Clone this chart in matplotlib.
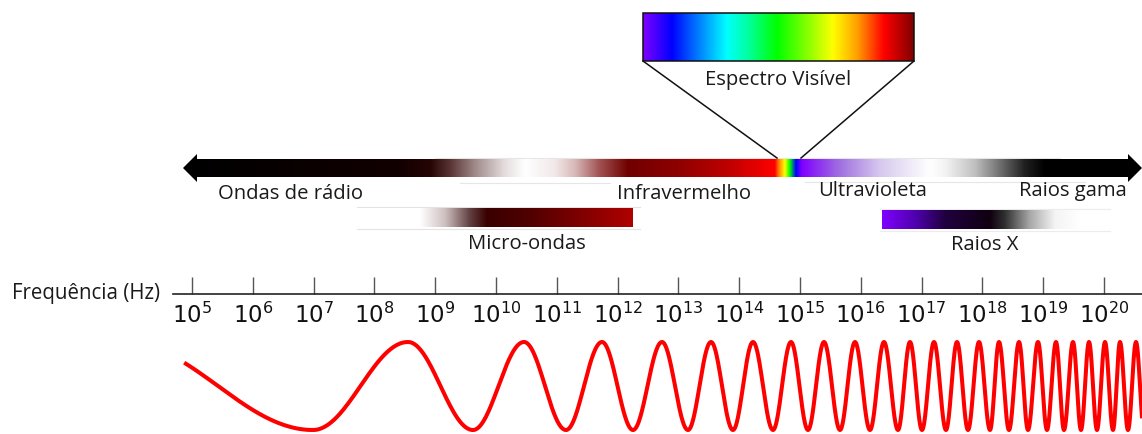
import numpy as np
import matplotlib
matplotlib.use("Agg")
import matplotlib.pyplot as plt
from matplotlib.colors import to_rgb
from matplotlib.patches import Polygon, Rectangle
from matplotlib.ticker import FixedLocator, LogFormatterSciNotation, NullLocator

W, H, DPI = 1142, 434, 100

# ---------------- data ----------------
band_labels = ["Ondas de rádio", "Infravermelho", "Ultravioleta", "Raios gama"]
sub_band_labels = ["Micro-ondas", "Raios X"]
visible_label = "Espectro Visível"
axis_label = "Frequência (Hz)"
freq_exponents = list(range(5, 21))

# colour stops of the main spectrum bar (pixel x, colour)
main_stop_x = [183, 400, 430, 450, 475, 505, 525, 555, 575, 600, 628, 680, 730, 775,
               779, 785, 790, 796, 802, 840, 880, 930, 945, 975, 1000, 1025, 1045, 1142]
main_stop_c = ["#000000", "#120000", "#260404", "#5a3434", "#a08a8a", "#e6dede", "#ffffff",
               "#f2e8e8", "#d8b8b8", "#a05050", "#700000", "#900000", "#c00000", "#ff0000",
               "#ff8000", "#ffff00", "#00ff00", "#0000ff", "#8000ff", "#a070e0", "#d6c8ee",
               "#ffffff", "#f4f4f4", "#c0c0c0", "#707070", "#202020", "#000000", "#000000"]

# micro-wave sub band
micro_stop_x = [357, 420, 445, 470, 487, 530, 633]
micro_stop_c = ["#ffffff", "#ffffff", "#d0c0c0", "#604040", "#3a0000", "#500000", "#b00000"]

# x-ray sub band
xray_stop_x = [882, 915, 945, 990, 1005, 1030, 1055, 1080]
xray_stop_c = ["#8000ff", "#5000b0", "#200040", "#100010", "#303030", "#a8a8a8", "#f4f4f4", "#ffffff"]

# visible spectrum box
vis_stop_x = [643, 672, 692, 727, 748, 777, 813, 833, 857, 884, 914]
vis_stop_c = ["#8000ff", "#0000ff", "#0060ff", "#00ffff", "#00ffa0", "#00ff00", "#a0ff00",
              "#ffff00", "#ffa000", "#ff0000", "#800000"]

# wave extrema (pixel x); first is an off-screen crest, then alternating trough / crest
wave_extrema_x = [123, 313, 408, 473, 524, 566, 602, 633, 662, 688, 711, 733, 753, 773, 791,
                  808, 824, 840, 855, 870, 884, 898, 910, 922, 934, 946, 957, 968, 979, 990,
                  999, 1009, 1019, 1028, 1038, 1047, 1056, 1064, 1073, 1081, 1089, 1097, 1105,
                  1113, 1120, 1128, 1136, 1144]

# ---------------- helpers ----------------
def gradient(stop_x, stop_c, x0, x1, n=1200):
    xs = np.linspace(x0, x1, n)
    rgb = np.array([to_rgb(c) for c in stop_c])
    img = np.stack([np.interp(xs, stop_x, rgb[:, k]) for k in range(3)], axis=-1)
    return img[np.newaxis, :, :]

fig = plt.figure(figsize=(W / DPI, H / DPI), dpi=DPI)
ax = fig.add_axes([0, 0, 1, 1])
ax.set_xlim(0, W)
ax.set_ylim(H, 0)
ax.axis("off")

font = "Open Sans"
fs = 14.6

# ---------------- main bar ----------------
bar_top, bar_bot, head_top, head_bot = 159, 177, 154, 182
ymid = (bar_top + bar_bot) / 2
arrow = Polygon([(183, ymid), (197, head_top), (197, bar_top), (1128, bar_top), (1128, head_top),
                 (1142, ymid), (1128, head_bot), (1128, bar_bot), (197, bar_bot), (197, head_bot)],
                closed=True, facecolor="none", edgecolor="none")
ax.add_patch(arrow)
im = ax.imshow(gradient(main_stop_x, main_stop_c, 183, 1142), extent=[183, 1142, head_bot, head_top],
               aspect="auto", interpolation="bilinear", zorder=2)
im.set_clip_path(arrow)

# faint guide lines around the bar
for (xa, xb, yy) in [(435, 1060, 157.5), (460, 610, 183), (805, 1085, 182)]:
    ax.plot([xa, xb], [yy, yy], color="#e6e6e6", lw=0.8, zorder=1)

# ---------------- sub bands ----------------
ax.imshow(gradient(micro_stop_x, micro_stop_c, 357, 633), extent=[357, 633, 227, 208],
          aspect="auto", interpolation="bilinear", zorder=2)
for yy in (206.5, 229):
    ax.plot([357, 640], [yy, yy], color="#e4e4e4", lw=0.8, zorder=1)

ax.imshow(gradient(xray_stop_x, xray_stop_c, 882, 1080), extent=[882, 1080, 229, 210],
          aspect="auto", interpolation="bilinear", zorder=2)
for yy in (208.5, 231):
    ax.plot([880, 1110], [yy, yy], color="#ececec", lw=0.8, zorder=1)

# ---------------- visible spectrum ----------------
ax.imshow(gradient(vis_stop_x, vis_stop_c, 643, 914), extent=[643, 914, 61, 13],
          aspect="auto", interpolation="bilinear", zorder=2)
ax.add_patch(Rectangle((643, 13), 914 - 643, 48, facecolor="none", edgecolor="#111111",
                       lw=1.1, zorder=3))
ax.plot([643, 777], [61, 158], color="#111111", lw=1.1, zorder=3)
ax.plot([914, 801], [61, 158], color="#111111", lw=1.1, zorder=3)

# ---------------- labels ----------------
txt = dict(fontfamily=font, fontsize=fs, color="#1a1a1a", va="baseline")
ax.text(218, 199, band_labels[0], ha="left", **txt)
ax.text(617, 199, band_labels[1], ha="left", **txt)
ax.text(818, 196, band_labels[2], ha="left", **txt)
ax.text(1019, 196, band_labels[3], ha="left", **txt)
ax.text(527, 249, sub_band_labels[0], ha="center", **txt)
ax.text(985, 250, sub_band_labels[1], ha="center", **txt)
ax.text(778, 85, visible_label, ha="center", **txt)
ax.text(160, 299, axis_label, ha="right", fontfamily=font, fontsize=14.8, color="#1a1a1a",
        va="baseline")

# ---------------- frequency axis ----------------
lo = 5 - (192 - 173) / 60.8
hi = 5 + (1142 - 192) / 60.8
fax = fig.add_axes([173 / W, (H - 294) / H, (W - 173) / W, 0.04])
fax.set_xscale("log")
fax.set_xlim(10 ** lo, 10 ** hi)
fax.patch.set_alpha(0)
for s in ("top", "left", "right"):
    fax.spines[s].set_visible(False)
fax.spines["bottom"].set_linewidth(1.2)
fax.spines["bottom"].set_color("#222222")
fax.set_yticks([])
fax.xaxis.set_major_locator(FixedLocator([10.0 ** e for e in freq_exponents]))
fax.xaxis.set_minor_locator(NullLocator())
fax.xaxis.set_major_formatter(LogFormatterSciNotation())
fax.tick_params(axis="x", direction="in", length=12.5, width=1.0, color="#555555",
                labelsize=16.5, pad=6.5, labelcolor="#111111")

# ---------------- wave ----------------
yc, amp = 386, 44
xs_all, ys_all = [], []
for i in range(len(wave_extrema_x) - 1):
    xa, xb = wave_extrema_x[i], wave_extrema_x[i + 1]
    t = np.linspace(0, 1, 60)
    sgn = -1 if i % 2 == 0 else 1   # even index = crest (top)
    xs_all.append(xa + (xb - xa) * t)
    ys_all.append(yc + sgn * amp * np.cos(np.pi * t))
xw = np.concatenate(xs_all)
yw = np.concatenate(ys_all)
keep = xw >= 184
ax.plot(xw[keep], yw[keep], color="#ff0000", lw=2.9, solid_capstyle="butt", zorder=4)

fig.savefig("out.png", dpi=DPI)
